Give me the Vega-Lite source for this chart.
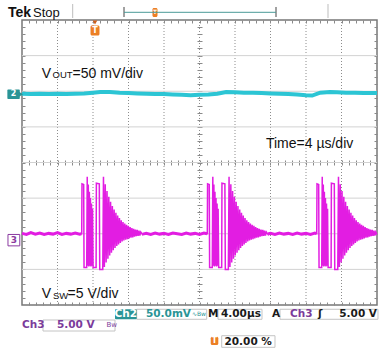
{
  "$schema": "https://vega.github.io/schema/vega-lite/v6.json",
  "width": 355,
  "height": 285,
  "autosize": "none",
  "padding": {"left": 22, "top": 20, "right": 3, "bottom": 44},
  "background": "white",
  "config": {
    "view": {"stroke": "#777777", "strokeWidth": 1.5},
    "axis": {"tickColor": "#8a8a8a", "tickWidth": 1, "zindex": 1}
  },
  "datasets": {
    "vgrid": [
      {"t": 4, "t2": 4, "v": -4, "v2": 4}, {"t": 8, "t2": 8, "v": -4, "v2": 4}, {"t": 12, "t2": 12, "v": -4, "v2": 4},
      {"t": 16, "t2": 16, "v": -4, "v2": 4}, {"t": 20, "t2": 20, "v": -4, "v2": 4}, {"t": 24, "t2": 24, "v": -4, "v2": 4},
      {"t": 28, "t2": 28, "v": -4, "v2": 4}, {"t": 32, "t2": 32, "v": -4, "v2": 4}, {"t": 36, "t2": 36, "v": -4, "v2": 4}
    ],
    "hgrid": [
      {"t": 0, "t2": 40, "v": -3, "v2": -3}, {"t": 0, "t2": 40, "v": -2, "v2": -2}, {"t": 0, "t2": 40, "v": -1, "v2": -1},
      {"t": 0, "t2": 40, "v": 0, "v2": 0}, {"t": 0, "t2": 40, "v": 1, "v2": 1}, {"t": 0, "t2": 40, "v": 2, "v2": 2},
      {"t": 0, "t2": 40, "v": 3, "v2": 3}
    ],
    "ch3": [
      {"t": 0, "v": -1.99, "seg": "b1"}, {"t": 0.5, "v": -2.02, "seg": "b1"}, {"t": 1, "v": -1.97, "seg": "b1"}, {"t": 1.5, "v": -2.01, "seg": "b1"},
      {"t": 2, "v": -1.98, "seg": "b1"}, {"t": 2.5, "v": -2.02, "seg": "b1"}, {"t": 3, "v": -1.99, "seg": "b1"}, {"t": 3.5, "v": -2.01, "seg": "b1"},
      {"t": 4, "v": -1.97, "seg": "b1"}, {"t": 4.5, "v": -2.02, "seg": "b1"}, {"t": 5, "v": -1.99, "seg": "b1"}, {"t": 5.5, "v": -2.01, "seg": "b1"},
      {"t": 6, "v": -1.98, "seg": "b1"}, {"t": 6.5, "v": -2.01, "seg": "b1"}, {"t": 6.7, "v": -2.0, "seg": "b1"},
      {"t": 6.73, "v": -2.0, "seg": "burst"}, {"t": 6.76, "v": -0.6, "seg": "burst"}, {"t": 6.95, "v": -0.62, "seg": "burst"}, {"t": 6.99, "v": -2.95, "seg": "burst"},
      {"t": 7.29, "v": -2.95, "seg": "burst"}, {"t": 7.35, "v": -0.4, "seg": "burst"}, {"t": 7.41, "v": -2.9, "seg": "burst"}, {"t": 7.47, "v": -0.62, "seg": "burst"},
      {"t": 7.53, "v": -2.92, "seg": "burst"}, {"t": 7.59, "v": -0.82, "seg": "burst"}, {"t": 7.65, "v": -2.9, "seg": "burst"}, {"t": 7.71, "v": -1.0, "seg": "burst"},
      {"t": 7.77, "v": -2.92, "seg": "burst"}, {"t": 7.83, "v": -1.15, "seg": "burst"}, {"t": 7.89, "v": -2.9, "seg": "burst"}, {"t": 7.95, "v": -1.3, "seg": "burst"},
      {"t": 8.01, "v": -2.95, "seg": "burst"}, {"t": 8.35, "v": -2.95, "seg": "burst"}, {"t": 8.38, "v": -0.58, "seg": "burst"}, {"t": 8.71, "v": -0.6, "seg": "burst"},
      {"t": 8.76, "v": -3.0, "seg": "burst"}, {"t": 9.1, "v": -3.0, "seg": "burst"}, {"t": 9.18, "v": -0.4, "seg": "burst"}, {"t": 9.28, "v": -2.93, "seg": "burst"},
      {"t": 9.38, "v": -0.61, "seg": "burst"}, {"t": 9.48, "v": -2.81, "seg": "burst"}, {"t": 9.58, "v": -0.8, "seg": "burst"}, {"t": 9.68, "v": -2.7, "seg": "burst"},
      {"t": 9.78, "v": -0.96, "seg": "burst"}, {"t": 9.88, "v": -2.61, "seg": "burst"}, {"t": 9.98, "v": -1.1, "seg": "burst"}, {"t": 10.08, "v": -2.53, "seg": "burst"},
      {"t": 10.18, "v": -1.22, "seg": "burst"}, {"t": 10.28, "v": -2.46, "seg": "burst"}, {"t": 10.38, "v": -1.32, "seg": "burst"}, {"t": 10.48, "v": -2.4, "seg": "burst"},
      {"t": 10.58, "v": -1.41, "seg": "burst"}, {"t": 10.68, "v": -2.34, "seg": "burst"}, {"t": 10.78, "v": -1.49, "seg": "burst"}, {"t": 10.88, "v": -2.3, "seg": "burst"},
      {"t": 10.98, "v": -1.56, "seg": "burst"}, {"t": 11.08, "v": -2.26, "seg": "burst"}, {"t": 11.18, "v": -1.62, "seg": "burst"}, {"t": 11.28, "v": -2.22, "seg": "burst"},
      {"t": 11.38, "v": -1.67, "seg": "burst"}, {"t": 11.48, "v": -2.19, "seg": "burst"}, {"t": 11.58, "v": -1.71, "seg": "burst"}, {"t": 11.68, "v": -2.17, "seg": "burst"},
      {"t": 11.78, "v": -1.75, "seg": "burst"}, {"t": 11.88, "v": -2.15, "seg": "burst"}, {"t": 11.98, "v": -1.78, "seg": "burst"}, {"t": 12.08, "v": -2.13, "seg": "burst"},
      {"t": 12.18, "v": -1.81, "seg": "burst"}, {"t": 12.28, "v": -2.11, "seg": "burst"}, {"t": 12.38, "v": -1.84, "seg": "burst"}, {"t": 12.48, "v": -2.1, "seg": "burst"},
      {"t": 12.58, "v": -1.86, "seg": "burst"}, {"t": 12.68, "v": -2.08, "seg": "burst"}, {"t": 12.78, "v": -1.88, "seg": "burst"}, {"t": 12.88, "v": -2.07, "seg": "burst"},
      {"t": 12.98, "v": -1.89, "seg": "burst"}, {"t": 13.08, "v": -2.06, "seg": "burst"}, {"t": 13.18, "v": -1.91, "seg": "burst"}, {"t": 13.28, "v": -2.05, "seg": "burst"},
      {"t": 13.38, "v": -1.95, "seg": "burst"}, {"t": 13.58, "v": -2.02, "seg": "burst"},
      {"t": 13.6, "v": -2.01, "seg": "b2"}, {"t": 14, "v": -1.99, "seg": "b2"}, {"t": 14.5, "v": -2.02, "seg": "b2"}, {"t": 15, "v": -1.98, "seg": "b2"},
      {"t": 15.5, "v": -2.01, "seg": "b2"}, {"t": 16, "v": -1.99, "seg": "b2"}, {"t": 16.5, "v": -2.02, "seg": "b2"}, {"t": 17, "v": -1.98, "seg": "b2"},
      {"t": 17.5, "v": -2.0, "seg": "b2"}, {"t": 18, "v": -2.02, "seg": "b2"}, {"t": 18.5, "v": -1.98, "seg": "b2"}, {"t": 19, "v": -2.01, "seg": "b2"},
      {"t": 19.5, "v": -1.99, "seg": "b2"}, {"t": 20, "v": -2.02, "seg": "b2"}, {"t": 20.5, "v": -1.98, "seg": "b2"}, {"t": 20.85, "v": -2.0, "seg": "b2"},
      {"t": 20.88, "v": -2.0, "seg": "burst"}, {"t": 20.91, "v": -0.6, "seg": "burst"}, {"t": 21.1, "v": -0.62, "seg": "burst"}, {"t": 21.14, "v": -2.95, "seg": "burst"},
      {"t": 21.44, "v": -2.95, "seg": "burst"}, {"t": 21.5, "v": -0.4, "seg": "burst"}, {"t": 21.56, "v": -2.9, "seg": "burst"}, {"t": 21.62, "v": -0.62, "seg": "burst"},
      {"t": 21.68, "v": -2.92, "seg": "burst"}, {"t": 21.74, "v": -0.82, "seg": "burst"}, {"t": 21.8, "v": -2.9, "seg": "burst"}, {"t": 21.86, "v": -1.0, "seg": "burst"},
      {"t": 21.92, "v": -2.92, "seg": "burst"}, {"t": 21.98, "v": -1.15, "seg": "burst"}, {"t": 22.04, "v": -2.9, "seg": "burst"}, {"t": 22.1, "v": -1.3, "seg": "burst"},
      {"t": 22.16, "v": -2.95, "seg": "burst"}, {"t": 22.5, "v": -2.95, "seg": "burst"}, {"t": 22.53, "v": -0.58, "seg": "burst"}, {"t": 22.86, "v": -0.6, "seg": "burst"},
      {"t": 22.91, "v": -3.0, "seg": "burst"}, {"t": 23.25, "v": -3.0, "seg": "burst"}, {"t": 23.33, "v": -0.4, "seg": "burst"}, {"t": 23.43, "v": -2.93, "seg": "burst"},
      {"t": 23.53, "v": -0.61, "seg": "burst"}, {"t": 23.63, "v": -2.81, "seg": "burst"}, {"t": 23.73, "v": -0.8, "seg": "burst"}, {"t": 23.83, "v": -2.7, "seg": "burst"},
      {"t": 23.93, "v": -0.96, "seg": "burst"}, {"t": 24.03, "v": -2.61, "seg": "burst"}, {"t": 24.13, "v": -1.1, "seg": "burst"}, {"t": 24.23, "v": -2.53, "seg": "burst"},
      {"t": 24.33, "v": -1.22, "seg": "burst"}, {"t": 24.43, "v": -2.46, "seg": "burst"}, {"t": 24.53, "v": -1.32, "seg": "burst"}, {"t": 24.63, "v": -2.4, "seg": "burst"},
      {"t": 24.73, "v": -1.41, "seg": "burst"}, {"t": 24.83, "v": -2.34, "seg": "burst"}, {"t": 24.93, "v": -1.49, "seg": "burst"}, {"t": 25.03, "v": -2.3, "seg": "burst"},
      {"t": 25.13, "v": -1.56, "seg": "burst"}, {"t": 25.23, "v": -2.26, "seg": "burst"}, {"t": 25.33, "v": -1.62, "seg": "burst"}, {"t": 25.43, "v": -2.22, "seg": "burst"},
      {"t": 25.53, "v": -1.67, "seg": "burst"}, {"t": 25.63, "v": -2.19, "seg": "burst"}, {"t": 25.73, "v": -1.71, "seg": "burst"}, {"t": 25.83, "v": -2.17, "seg": "burst"},
      {"t": 25.93, "v": -1.75, "seg": "burst"}, {"t": 26.03, "v": -2.15, "seg": "burst"}, {"t": 26.13, "v": -1.78, "seg": "burst"}, {"t": 26.23, "v": -2.13, "seg": "burst"},
      {"t": 26.33, "v": -1.81, "seg": "burst"}, {"t": 26.43, "v": -2.11, "seg": "burst"}, {"t": 26.53, "v": -1.84, "seg": "burst"}, {"t": 26.63, "v": -2.1, "seg": "burst"},
      {"t": 26.73, "v": -1.86, "seg": "burst"}, {"t": 26.83, "v": -2.08, "seg": "burst"}, {"t": 26.93, "v": -1.88, "seg": "burst"}, {"t": 27.03, "v": -2.07, "seg": "burst"},
      {"t": 27.13, "v": -1.89, "seg": "burst"}, {"t": 27.23, "v": -2.06, "seg": "burst"}, {"t": 27.33, "v": -1.91, "seg": "burst"}, {"t": 27.43, "v": -2.05, "seg": "burst"},
      {"t": 27.53, "v": -1.95, "seg": "burst"}, {"t": 27.73, "v": -2.02, "seg": "burst"},
      {"t": 27.75, "v": -2.0, "seg": "b3"}, {"t": 28, "v": -1.99, "seg": "b3"}, {"t": 28.5, "v": -2.02, "seg": "b3"}, {"t": 29, "v": -1.98, "seg": "b3"},
      {"t": 29.5, "v": -2.01, "seg": "b3"}, {"t": 30, "v": -1.99, "seg": "b3"}, {"t": 30.5, "v": -2.02, "seg": "b3"}, {"t": 31, "v": -1.98, "seg": "b3"},
      {"t": 31.5, "v": -2.01, "seg": "b3"}, {"t": 32, "v": -1.99, "seg": "b3"}, {"t": 32.5, "v": -2.02, "seg": "b3"}, {"t": 33, "v": -1.98, "seg": "b3"},
      {"t": 33.18, "v": -2.0, "seg": "b3"},
      {"t": 33.21, "v": -2.0, "seg": "burst"}, {"t": 33.24, "v": -0.6, "seg": "burst"}, {"t": 33.43, "v": -0.62, "seg": "burst"}, {"t": 33.47, "v": -2.95, "seg": "burst"},
      {"t": 33.77, "v": -2.95, "seg": "burst"}, {"t": 33.83, "v": -0.4, "seg": "burst"}, {"t": 33.89, "v": -2.9, "seg": "burst"}, {"t": 33.95, "v": -0.62, "seg": "burst"},
      {"t": 34.01, "v": -2.92, "seg": "burst"}, {"t": 34.07, "v": -0.82, "seg": "burst"}, {"t": 34.13, "v": -2.9, "seg": "burst"}, {"t": 34.19, "v": -1.0, "seg": "burst"},
      {"t": 34.25, "v": -2.92, "seg": "burst"}, {"t": 34.31, "v": -1.15, "seg": "burst"}, {"t": 34.37, "v": -2.9, "seg": "burst"}, {"t": 34.43, "v": -1.3, "seg": "burst"},
      {"t": 34.49, "v": -2.95, "seg": "burst"}, {"t": 34.83, "v": -2.95, "seg": "burst"}, {"t": 34.86, "v": -0.58, "seg": "burst"}, {"t": 35.19, "v": -0.6, "seg": "burst"},
      {"t": 35.24, "v": -3.0, "seg": "burst"}, {"t": 35.58, "v": -3.0, "seg": "burst"}, {"t": 35.66, "v": -0.4, "seg": "burst"}, {"t": 35.76, "v": -2.93, "seg": "burst"},
      {"t": 35.86, "v": -0.61, "seg": "burst"}, {"t": 35.96, "v": -2.81, "seg": "burst"}, {"t": 36.06, "v": -0.8, "seg": "burst"}, {"t": 36.16, "v": -2.7, "seg": "burst"},
      {"t": 36.26, "v": -0.96, "seg": "burst"}, {"t": 36.36, "v": -2.61, "seg": "burst"}, {"t": 36.46, "v": -1.1, "seg": "burst"}, {"t": 36.56, "v": -2.53, "seg": "burst"},
      {"t": 36.66, "v": -1.22, "seg": "burst"}, {"t": 36.76, "v": -2.46, "seg": "burst"}, {"t": 36.86, "v": -1.32, "seg": "burst"}, {"t": 36.96, "v": -2.4, "seg": "burst"},
      {"t": 37.06, "v": -1.41, "seg": "burst"}, {"t": 37.16, "v": -2.34, "seg": "burst"}, {"t": 37.26, "v": -1.49, "seg": "burst"}, {"t": 37.36, "v": -2.3, "seg": "burst"},
      {"t": 37.46, "v": -1.56, "seg": "burst"}, {"t": 37.56, "v": -2.26, "seg": "burst"}, {"t": 37.66, "v": -1.62, "seg": "burst"}, {"t": 37.76, "v": -2.22, "seg": "burst"},
      {"t": 37.86, "v": -1.67, "seg": "burst"}, {"t": 37.96, "v": -2.19, "seg": "burst"}, {"t": 38.06, "v": -1.71, "seg": "burst"}, {"t": 38.16, "v": -2.17, "seg": "burst"},
      {"t": 38.26, "v": -1.75, "seg": "burst"}, {"t": 38.36, "v": -2.15, "seg": "burst"}, {"t": 38.46, "v": -1.78, "seg": "burst"}, {"t": 38.56, "v": -2.13, "seg": "burst"},
      {"t": 38.66, "v": -1.81, "seg": "burst"}, {"t": 38.76, "v": -2.11, "seg": "burst"}, {"t": 38.86, "v": -1.84, "seg": "burst"}, {"t": 38.96, "v": -2.1, "seg": "burst"},
      {"t": 39.06, "v": -1.86, "seg": "burst"}, {"t": 39.16, "v": -2.08, "seg": "burst"}, {"t": 39.26, "v": -1.88, "seg": "burst"}, {"t": 39.36, "v": -2.07, "seg": "burst"},
      {"t": 39.46, "v": -1.89, "seg": "burst"}, {"t": 39.56, "v": -2.06, "seg": "burst"}, {"t": 39.66, "v": -1.91, "seg": "burst"}, {"t": 39.76, "v": -2.05, "seg": "burst"},
      {"t": 39.86, "v": -1.95, "seg": "burst"}, {"t": 40, "v": -2.02, "seg": "burst"}
    ],
    "ch2": [
      {"t": 0, "v": 1.93}, {"t": 1, "v": 1.92}, {"t": 2, "v": 1.93}, {"t": 3, "v": 1.92}, {"t": 4, "v": 1.93}, {"t": 5, "v": 1.92},
      {"t": 6, "v": 1.93}, {"t": 7, "v": 1.94}, {"t": 8, "v": 1.96}, {"t": 8.8, "v": 1.98}, {"t": 9.9, "v": 1.98}, {"t": 11, "v": 1.96},
      {"t": 12, "v": 1.95}, {"t": 13, "v": 1.94}, {"t": 14, "v": 1.93}, {"t": 15, "v": 1.92}, {"t": 16, "v": 1.92}, {"t": 17, "v": 1.91},
      {"t": 18, "v": 1.9}, {"t": 19, "v": 1.89}, {"t": 20, "v": 1.9}, {"t": 21, "v": 1.91}, {"t": 22, "v": 1.93}, {"t": 23, "v": 1.98},
      {"t": 24, "v": 1.97}, {"t": 25, "v": 1.96}, {"t": 26, "v": 1.955}, {"t": 27, "v": 1.95}, {"t": 28, "v": 1.94}, {"t": 29, "v": 1.93},
      {"t": 30, "v": 1.92}, {"t": 31, "v": 1.91}, {"t": 32, "v": 1.89}, {"t": 32.7, "v": 1.88}, {"t": 33.6, "v": 1.96}, {"t": 34.7, "v": 1.98},
      {"t": 35.5, "v": 1.97}, {"t": 36.5, "v": 1.96}, {"t": 37.5, "v": 1.96}, {"t": 38.5, "v": 1.95}, {"t": 39.3, "v": 1.95}, {"t": 40, "v": 1.95}
    ]
  },
  "encoding": {
    "x": {"field": "t", "type": "quantitative", "scale": {"domain": [0, 40], "nice": false, "zero": false}, "axis": null},
    "y": {"field": "v", "type": "quantitative", "scale": {"domain": [-4, 4], "nice": false, "zero": false}, "axis": null}
  },
  "layer": [
    {
      "data": {"name": "vgrid"},
      "mark": {"type": "rule", "color": "#8c8c8c", "strokeWidth": 1, "strokeDash": [1, 2]},
      "encoding": {"x2": {"field": "t2"}, "y2": {"field": "v2"}}
    },
    {
      "data": {"name": "hgrid"},
      "mark": {"type": "rule", "color": "#d2d2d2", "strokeWidth": 1},
      "encoding": {"x2": {"field": "t2"}, "y2": {"field": "v2"}}
    },
    {
      "data": {"name": "ch3"},
      "transform": [{"filter": "datum.seg != 'burst'"}],
      "mark": {"type": "line", "color": "#e21de2", "strokeWidth": 3},
      "encoding": {"detail": {"field": "seg"}}
    },
    {
      "data": {"name": "ch3"},
      "mark": {"type": "line", "color": "#e21de2", "strokeWidth": 1.5},
      "encoding": {
        "x": {"field": "t", "type": "quantitative", "scale": {"domain": [0, 40], "nice": false, "zero": false},
          "axis": {"orient": "bottom", "values": [0.8,1.6,2.4,3.2,4,4.8,5.6,6.4,7.2,8,8.8,9.6,10.4,11.2,12,12.8,13.6,14.4,15.2,16,16.8,17.6,18.4,19.2,20,20.8,21.6,22.4,23.2,24,24.8,25.6,26.4,27.2,28,28.8,29.6,30.4,31.2,32,32.8,33.6,34.4,35.2,36,36.8,37.6,38.4,39.2], "tickSize": -3, "labels": false, "domain": false, "grid": false, "title": null}},
        "y": {"field": "v", "type": "quantitative", "scale": {"domain": [-4, 4], "nice": false, "zero": false},
          "axis": {"orient": "left", "values": [-3.8,-3.6,-3.4,-3.2,-3,-2.8,-2.6,-2.4,-2.2,-2,-1.8,-1.6,-1.4,-1.2,-1,-0.8,-0.6,-0.4,-0.2,0,0.2,0.4,0.6,0.8,1,1.2,1.4,1.6,1.8,2,2.2,2.4,2.6,2.8,3,3.2,3.4,3.6,3.8], "tickSize": -3, "labels": false, "domain": false, "grid": false, "title": null}}
      }
    },
    {
      "data": {"name": "ch2"},
      "mark": {"type": "line", "color": "#2cc5d4", "strokeWidth": 4},
      "encoding": {
        "x": {"field": "t", "type": "quantitative", "scale": {"domain": [0, 40], "nice": false, "zero": false},
          "axis": {"orient": "top", "values": [0.8,1.6,2.4,3.2,4,4.8,5.6,6.4,7.2,8,8.8,9.6,10.4,11.2,12,12.8,13.6,14.4,15.2,16,16.8,17.6,18.4,19.2,20,20.8,21.6,22.4,23.2,24,24.8,25.6,26.4,27.2,28,28.8,29.6,30.4,31.2,32,32.8,33.6,34.4,35.2,36,36.8,37.6,38.4,39.2], "tickSize": -3, "labels": false, "domain": false, "grid": false, "title": null}},
        "y": {"field": "v", "type": "quantitative", "scale": {"domain": [-4, 4], "nice": false, "zero": false},
          "axis": {"orient": "right", "values": [-3.8,-3.6,-3.4,-3.2,-3,-2.8,-2.6,-2.4,-2.2,-2,-1.8,-1.6,-1.4,-1.2,-1,-0.8,-0.6,-0.4,-0.2,0,0.2,0.4,0.6,0.8,1,1.2,1.4,1.6,1.8,2,2.2,2.4,2.6,2.8,3,3.2,3.4,3.6,3.8], "tickSize": -3, "labels": false, "domain": false, "grid": false, "title": null}}
      }
    },
    {
      "data": {"values": [
        {"t": 2.22, "v": 2.372, "label": "V"},
        {"t": 5.69, "v": 2.372, "label": "=50 mV/div"},
        {"t": 27.49, "v": 0.407, "label": "Time=4 µs/div"},
        {"t": 2.22, "v": -3.803, "label": "V"},
        {"t": 5.13, "v": -3.803, "label": "=5 V/div"}
      ]},
      "mark": {"type": "text", "font": "Liberation Sans", "fontSize": 14, "align": "left", "baseline": "alphabetic", "color": "#111111"},
      "encoding": {
        "x": {"field": "t", "type": "quantitative", "scale": {"domain": [0, 40], "nice": false, "zero": false},
          "axis": {"orient": "bottom", "offset": -145, "values": [0.8,1.6,2.4,3.2,4,4.8,5.6,6.4,7.2,8,8.8,9.6,10.4,11.2,12,12.8,13.6,14.4,15.2,16,16.8,17.6,18.4,19.2,20,20.8,21.6,22.4,23.2,24,24.8,25.6,26.4,27.2,28,28.8,29.6,30.4,31.2,32,32.8,33.6,34.4,35.2,36,36.8,37.6,38.4,39.2], "tickSize": 5, "labels": false, "domain": false, "grid": false, "title": null}},
        "y": {"field": "v", "type": "quantitative", "scale": {"domain": [-4, 4], "nice": false, "zero": false},
          "axis": {"orient": "left", "offset": -180, "values": [-3.8,-3.6,-3.4,-3.2,-3,-2.8,-2.6,-2.4,-2.2,-2,-1.8,-1.6,-1.4,-1.2,-1,-0.8,-0.6,-0.4,-0.2,0,0.2,0.4,0.6,0.8,1,1.2,1.4,1.6,1.8,2,2.2,2.4,2.6,2.8,3,3.2,3.4,3.6,3.8], "tickSize": 5, "labels": false, "domain": false, "grid": false, "title": null}},
        "text": {"field": "label"}
      }
    },
    {
      "data": {"values": [
        {"t": 3.44, "v": 2.36, "label": "OUT"},
        {"t": 3.49, "v": -3.83, "label": "SW"}
      ]},
      "mark": {"type": "text", "font": "Liberation Sans", "fontSize": 9.5, "align": "left", "baseline": "alphabetic", "color": "#111111"},
      "encoding": {"text": {"field": "label"}}
    },
    {
      "data": {"values": [
        {"t": 12.924, "t2": 20.811, "v": -4.12, "v2": -4.401},
        {"t": 22.085, "t2": 27.042, "v": -4.12, "v2": -4.401},
        {"t": 29.07, "t2": 40.11, "v": -4.12, "v2": -4.401},
        {"t": 2.366, "t2": 10.479, "v": -4.421, "v2": -4.73},
        {"t": 22.501, "t2": 28.507, "v": -4.862, "v2": -5.188}
      ]},
      "mark": {"type": "rect", "fill": "#ffffff", "stroke": "#c4c4c4", "strokeWidth": 1},
      "encoding": {"x2": {"field": "t2"}, "y2": {"field": "v2"}}
    },
    {
      "data": {"values": [
        {"t": 10.479, "t2": 12.924, "v": -4.12, "v2": -4.401},
        {"t": -1.65, "t2": -0.25, "v": 2.05, "v2": 1.78}
      ]},
      "mark": {"type": "rect", "fill": "#2a9496", "cornerRadius": 1},
      "encoding": {"x2": {"field": "t2"}, "y2": {"field": "v2"}}
    },
    {
      "data": {"values": [{"t": -0.13, "v": 1.915}]},
      "mark": {"type": "point", "shape": "triangle-right", "filled": true, "color": "#2a9496", "size": 30, "opacity": 1},
      "encoding": {}
    },
    {
      "data": {"values": [{"t": -1.58, "t2": -0.25, "v": -2.02, "v2": -2.34}]},
      "mark": {"type": "rect", "fill": "#ffffff", "stroke": "#8a3aa0", "strokeWidth": 1},
      "encoding": {"x2": {"field": "t2"}, "y2": {"field": "v2"}}
    },
    {
      "data": {"values": [
        {"t": 7.72, "t2": 8.73, "v": 3.846, "v2": 3.565},
        {"t": 14.7, "t2": 15.27, "v": 4.337, "v2": 4.084},
        {"t": 21.262, "t2": 22.118, "v": -4.89, "v2": -5.123}
      ]},
      "mark": {"type": "rect", "fill": "#ec7f25", "cornerRadius": 1.5},
      "encoding": {"x2": {"field": "t2"}, "y2": {"field": "v2"}}
    },
    {
      "data": {"values": [{"t": 8.225, "v": 3.93}]},
      "mark": {"type": "point", "shape": "triangle-down", "filled": true, "color": "#d0601a", "size": 22, "opacity": 1},
      "encoding": {}
    },
    {
      "data": {"values": [
        {"t": -0.95, "v": 1.915, "label": "2"},
        {"t": 8.225, "v": 3.705, "label": "T"},
        {"t": 21.69, "v": -5.006, "label": "T"}
      ]},
      "mark": {"type": "text", "font": "DejaVu Sans", "fontSize": 8, "fontWeight": "bold", "align": "center", "baseline": "middle", "color": "#ffffff"},
      "encoding": {"text": {"field": "label"}}
    },
    {
      "data": {"values": [{"t": 14.986, "v": 4.215, "label": "T"}]},
      "mark": {"type": "text", "font": "DejaVu Sans", "fontSize": 6, "fontWeight": "bold", "align": "center", "baseline": "middle", "color": "#ffffff"},
      "encoding": {"text": {"field": "label"}}
    },
    {
      "data": {"values": [{"t": -0.92, "v": -2.18, "label": "3"}]},
      "mark": {"type": "text", "font": "DejaVu Sans", "fontSize": 9, "fontWeight": "bold", "align": "center", "baseline": "middle", "color": "#8a3aa0"},
      "encoding": {"text": {"field": "label"}}
    },
    {
      "data": {"values": [{"t": 11.7, "v": -4.261, "label": "Ch2"}]},
      "mark": {"type": "text", "font": "DejaVu Sans", "fontSize": 10.5, "fontWeight": "bold", "align": "center", "baseline": "middle", "color": "#ffffff"},
      "encoding": {"text": {"field": "label"}}
    },
    {
      "data": {"values": [{"t": 13.972, "v": -4.261, "label": "50.0mV"}]},
      "mark": {"type": "text", "font": "DejaVu Sans", "fontSize": 10.5, "fontWeight": "bold", "align": "left", "baseline": "middle", "color": "#2a9496"},
      "encoding": {"text": {"field": "label"}}
    },
    {
      "data": {"values": [{"t": 19.15, "v": -4.261, "label": "∿Bw"}]},
      "mark": {"type": "text", "font": "DejaVu Sans", "fontSize": 6, "align": "left", "baseline": "middle", "color": "#2a9496"},
      "encoding": {"text": {"field": "label"}}
    },
    {
      "data": {"values": [{"t": 9.52, "v": -4.56, "label": "Bw"}]},
      "mark": {"type": "text", "font": "DejaVu Sans", "fontSize": 7, "align": "left", "baseline": "middle", "color": "#7b3b9b"},
      "encoding": {"text": {"field": "label"}}
    },
    {
      "data": {"values": [
        {"t": 30.197, "v": -4.261, "label": "Ch3"},
        {"t": 0, "v": -4.575, "label": "Ch3"},
        {"t": 3.944, "v": -4.575, "label": "5.00 V"}
      ]},
      "mark": {"type": "text", "font": "DejaVu Sans", "fontSize": 10.5, "fontWeight": "bold", "align": "left", "baseline": "middle", "color": "#7b3b9b"},
      "encoding": {"text": {"field": "label"}}
    },
    {
      "data": {"values": [
        {"t": 20.95, "v": -4.261, "label": "M"},
        {"t": 22.423, "v": -4.261, "label": "4.00µs"},
        {"t": 28.169, "v": -4.261, "label": "A"},
        {"t": 33.352, "v": -4.261, "label": "ʃ"},
        {"t": 35.75, "v": -4.261, "label": "5.00 V"},
        {"t": 22.817, "v": -5.025, "label": "20.00 %"}
      ]},
      "mark": {"type": "text", "font": "DejaVu Sans", "fontSize": 10.5, "fontWeight": "bold", "align": "left", "baseline": "middle", "color": "#1a1a1a"},
      "encoding": {"text": {"field": "label"}}
    },
    {
      "data": {"values": [{"t": -1.577, "v": 4.21, "label": "Tek"}]},
      "mark": {"type": "text", "font": "Liberation Sans", "fontSize": 14, "fontWeight": "bold", "align": "left", "baseline": "middle", "color": "#111111"},
      "encoding": {"text": {"field": "label"}}
    },
    {
      "data": {"values": [{"t": 1.239, "v": 4.21, "label": "Stop"}]},
      "mark": {"type": "text", "font": "Liberation Sans", "fontSize": 13, "align": "left", "baseline": "middle", "color": "#111111"},
      "encoding": {"text": {"field": "label"}}
    },
    {
      "data": {"values": [
        {"t": 5.713, "t2": 5.713, "v": 4.449, "v2": 4.056},
        {"t": 34.479, "t2": 34.479, "v": 4.449, "v2": 4.056}
      ]},
      "mark": {"type": "rule", "color": "#bdbdbd", "strokeWidth": 1},
      "encoding": {"x2": {"field": "t2"}, "y2": {"field": "v2"}}
    },
    {
      "data": {"values": [
        {"t": 11.493, "t2": 11.493, "v": 4.365, "v2": 4.084},
        {"t": 28.62, "t2": 28.62, "v": 4.365, "v2": 4.084}
      ]},
      "mark": {"type": "rule", "color": "#444444", "strokeWidth": 1},
      "encoding": {"x2": {"field": "t2"}, "y2": {"field": "v2"}}
    },
    {
      "data": {"values": [{"t": 11.493, "t2": 28.62, "v": 4.216, "v2": 4.216}]},
      "mark": {"type": "rule", "color": "#4a9a98", "strokeWidth": 1},
      "encoding": {"x2": {"field": "t2"}, "y2": {"field": "v2"}}
    }
  ],
  "resolve": {"axis": {"x": "independent", "y": "independent"}}
}
